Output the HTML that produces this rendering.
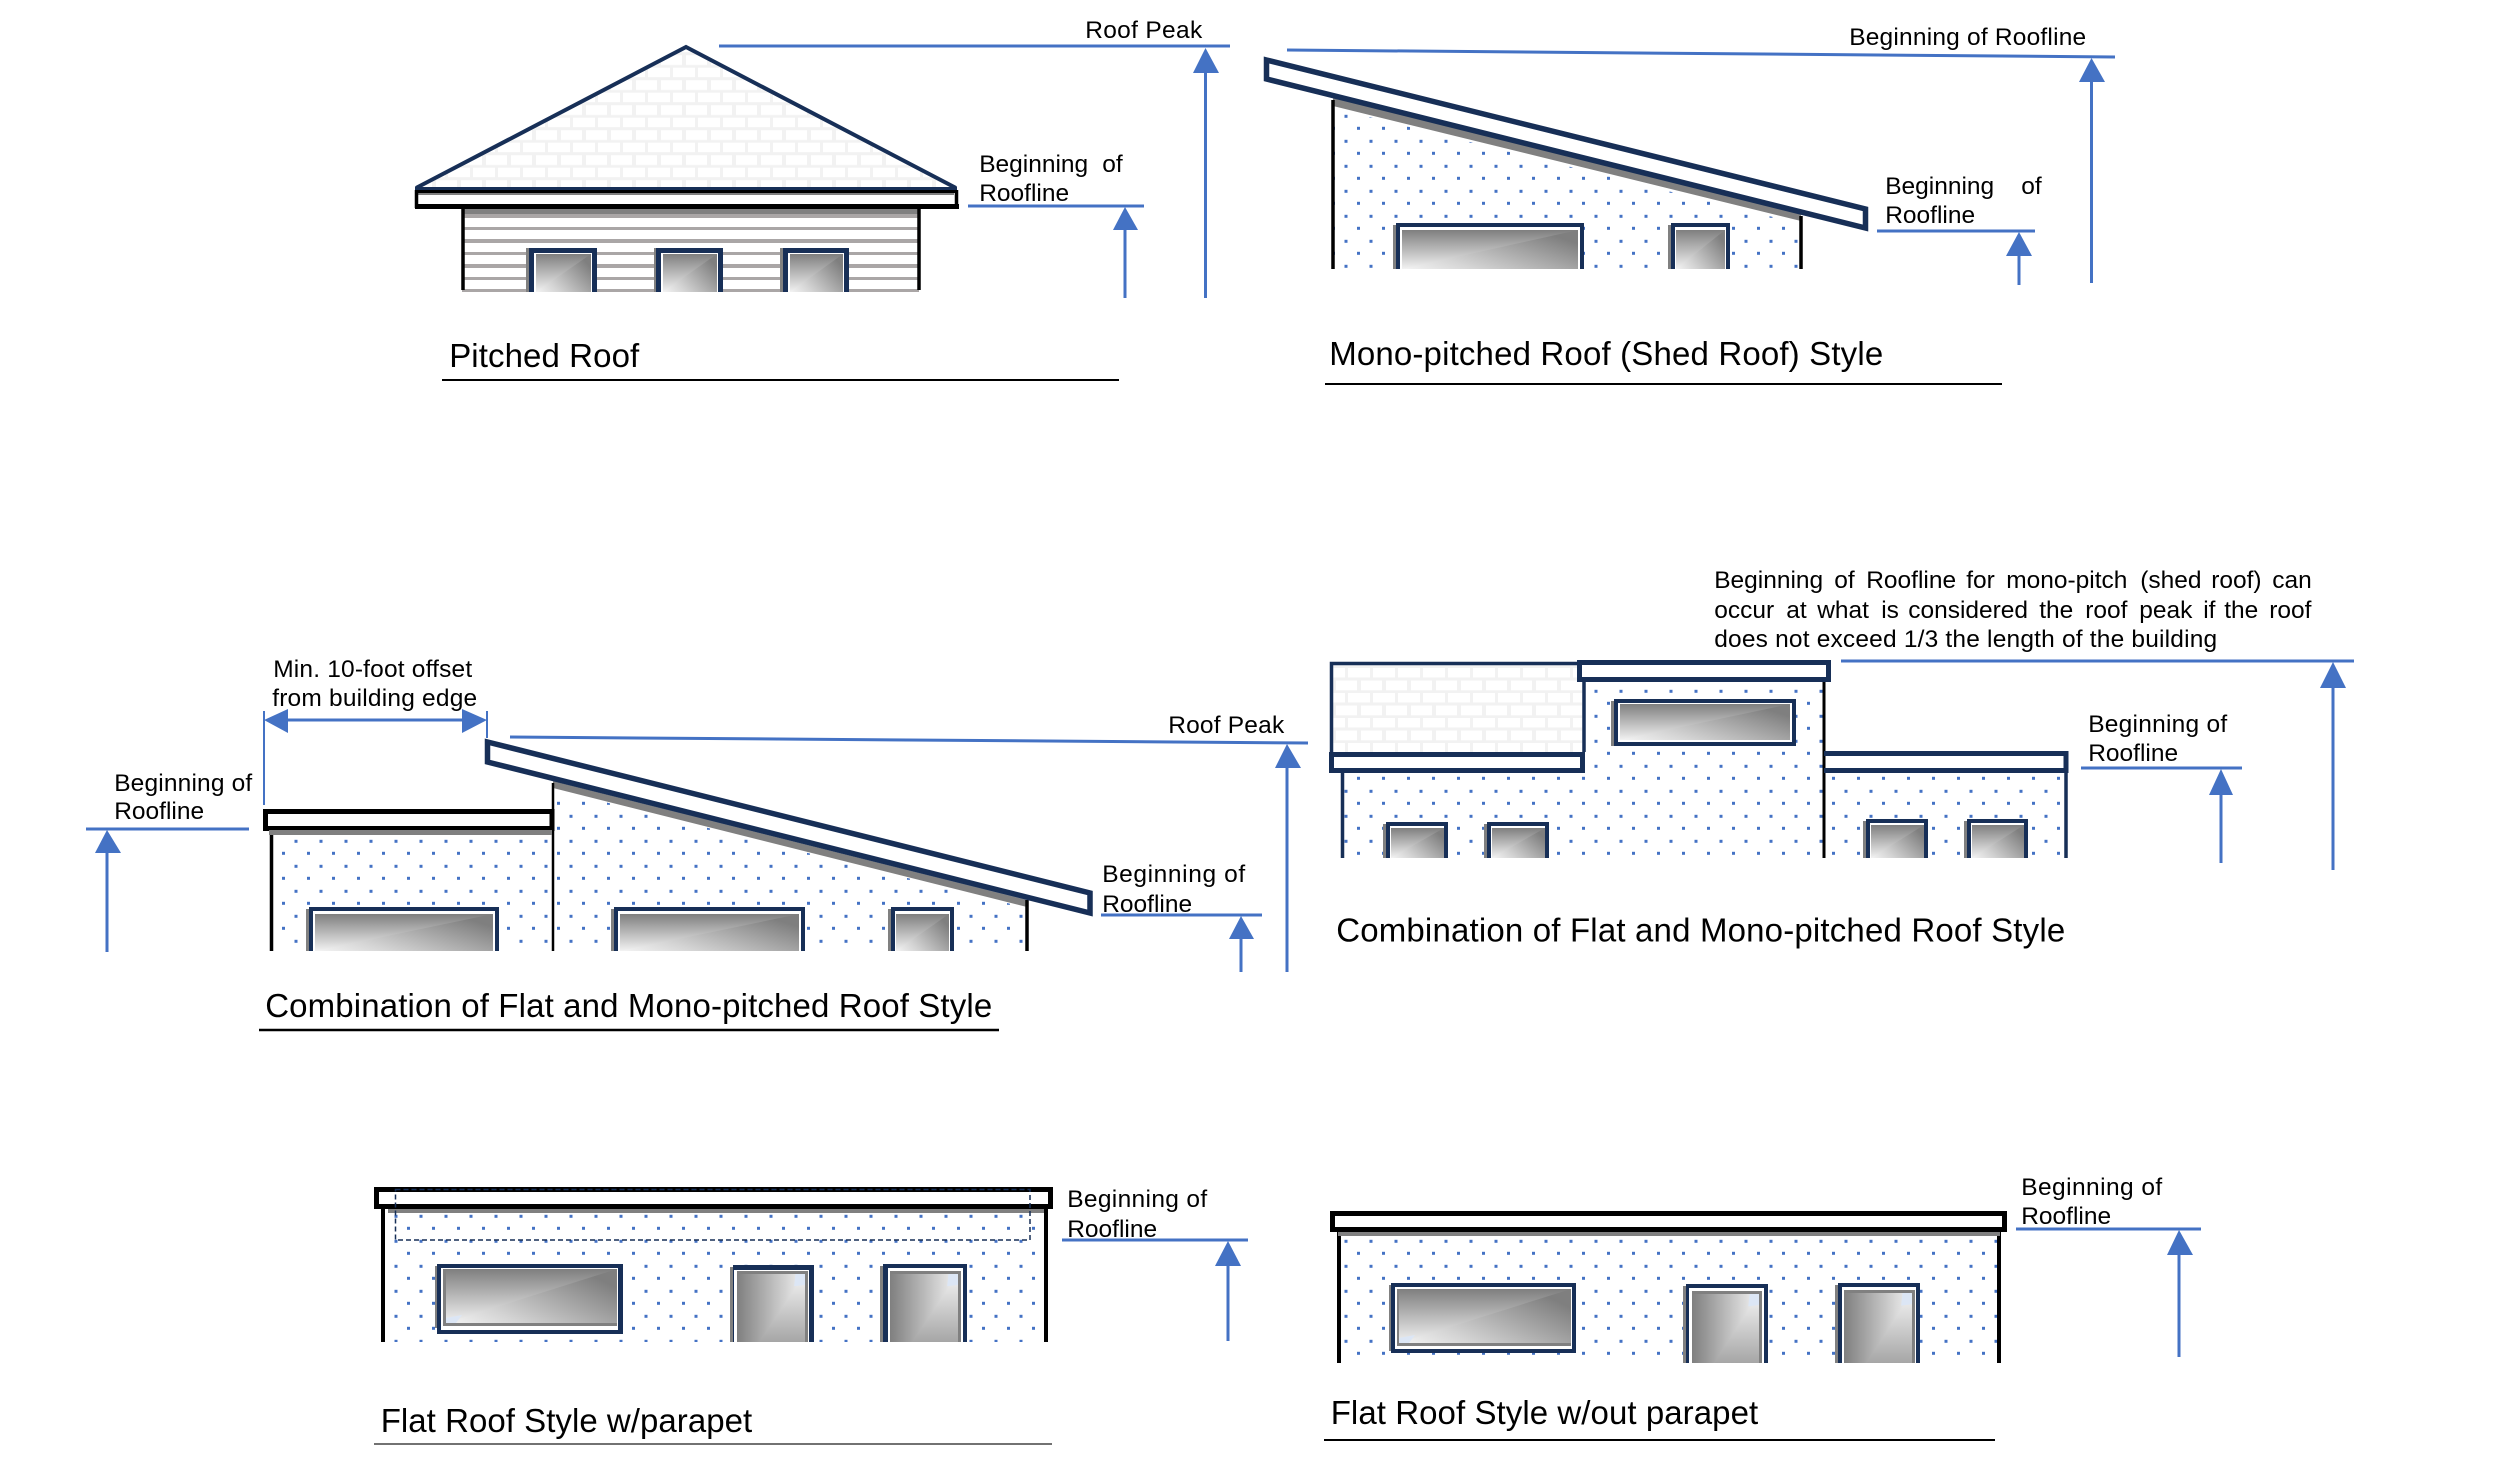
<!DOCTYPE html>
<html lang="en">
<head>
<meta charset="utf-8">
<title>Roof Styles</title>
<style>
html,body{margin:0;padding:0;background:#fff;width:2502px;height:1476px;overflow:hidden}
svg{display:block}
text{font-family:"Liberation Sans",sans-serif;fill:#000;font-size:24.5px;transform:translateX(-0.8px)}
.t{font-size:33px}
.b{stroke:#4472c4;stroke-width:3;fill:none}
.h{fill:#4472c4}
.k{stroke:#000;fill:none}
.n{stroke:#172f57;fill:none}
</style>
</head>
<body>
<svg width="2502" height="1476" viewBox="0 0 2502 1476" xmlns="http://www.w3.org/2000/svg">
<defs>
<pattern id="d" width="25" height="25" patternUnits="userSpaceOnUse">
<rect x="19.5" y="14.8" width="3" height="3" fill="#4472c4"/>
<rect x="7" y="1.8" width="3" height="3" fill="#4472c4"/>
</pattern>
<pattern id="s1" width="25" height="25" patternUnits="userSpaceOnUse" patternTransform="translate(23 167.7)">
<rect width="25" height="25" fill="#f2f2f2"/>
<rect x="0" y="0" width="22" height="9.5" fill="#fff"/>
<rect x="13" y="12.5" width="12" height="9.8" fill="#fff"/>
<rect x="0" y="12.5" width="9" height="9.8" fill="#fff"/>
</pattern>
<pattern id="s2" width="25" height="25" patternUnits="userSpaceOnUse" patternTransform="translate(23 668)">
<rect width="25" height="25" fill="#f2f2f2"/>
<rect x="0" y="0" width="22" height="9.5" fill="#fff"/>
<rect x="13" y="12.5" width="12" height="9.8" fill="#fff"/>
<rect x="0" y="12.5" width="9" height="9.8" fill="#fff"/>
</pattern>
<linearGradient id="ga" x1="0" y1="1" x2="1" y2="0.35">
<stop offset="0" stop-color="#f4f4f4"/><stop offset=".3" stop-color="#d4d4d4"/><stop offset="1" stop-color="#7f7f7f"/>
</linearGradient>
<linearGradient id="gb" x1="0" y1="0" x2="0" y2="1">
<stop offset="0" stop-color="#7f7f7f"/><stop offset="1" stop-color="#f2f2f2"/>
</linearGradient>
<linearGradient id="gc" x1="0" y1="0" x2="1" y2="0">
<stop offset="0" stop-color="#7f7f7f"/><stop offset="1" stop-color="#f4f4f4"/>
</linearGradient>
<linearGradient id="gd" x1="0.8" y1="0" x2="0.8" y2="1">
<stop offset="0" stop-color="#f4f4f4"/><stop offset="1" stop-color="#a6a6a6"/>
</linearGradient>
<symbol id="W" viewBox="0 0 100 100" preserveAspectRatio="none">
<rect width="100" height="100" fill="url(#ga)"/>
<polygon points="0,0 100,0 0,100" fill="url(#gb)"/>
</symbol>
<symbol id="D" viewBox="0 0 100 100" preserveAspectRatio="none">
<rect width="100" height="100" fill="url(#gd)"/>
<polygon points="0,0 100,0 32,100 0,100" fill="url(#gc)"/>
<polygon points="100,0 86,0 84,18 100,16" fill="#dce6f5"/>
</symbol>
</defs>

<!-- PITCHED -->
<polygon points="686,47 416,188 956,188" fill="url(#s1)"/>
<polyline class="n" stroke-width="4" points="416,188 686,47 956,188"/>
<rect x="462" y="209" width="457" height="83" fill="#fff"/>
<rect x="462" y="209" width="457" height="5" fill="#808080"/>
<rect x="462" y="214" width="457" height="4" fill="#aaa6a6"/>
<g fill="#aaa6a6">
<rect x="462" y="227" width="457" height="3"/><rect x="462" y="239" width="457" height="4"/>
<rect x="462" y="252" width="457" height="3"/><rect x="462" y="264" width="457" height="4"/>
<rect x="462" y="277" width="457" height="3"/><rect x="462" y="289" width="457" height="3"/>
</g>
<path class="k" stroke-width="3.500" d="M463,209V290M919,209V290"/>
<g>
<rect x="526" y="248" width="71" height="44" fill="#808080"/><rect x="529" y="248" width="68" height="44" fill="#172f57"/><rect x="534" y="253" width="58" height="39" fill="#fff"/><use href="#W" x="536" y="254" width="55" height="38"/>
<rect x="654" y="248" width="69" height="44" fill="#808080"/><rect x="656" y="248" width="67" height="44" fill="#172f57"/><rect x="661" y="253" width="57" height="39" fill="#fff"/><use href="#W" x="663" y="254" width="54" height="38"/>
<rect x="780" y="248" width="69" height="44" fill="#808080"/><rect x="783" y="248" width="66" height="44" fill="#172f57"/><rect x="788" y="253" width="56" height="39" fill="#fff"/><use href="#W" x="790" y="254" width="53" height="38"/>
</g>
<rect x="415" y="187" width="542" height="3" fill="#172f57"/>
<rect x="415" y="190" width="542" height="3" fill="#000"/>
<rect x="418" y="193" width="536" height="2" fill="#808080"/>
<rect x="415" y="204" width="544" height="5" fill="#000"/>
<path class="k" stroke-width="3.500" d="M416.500,190V208M956.500,190V208"/>
<path class="b" d="M719,46H1230M1205.500,60V298"/><polygon class="h" points="1205.500,48 1193,73 1219,73"/>
<path class="b" d="M968,206H1144M1125,220V298"/><polygon class="h" points="1125,207 1113,230 1138,230"/>
<text x="1086" y="38" textLength="117">Roof Peak</text>
<text x="980" y="172">Beginning</text><text x="1103" y="172">of</text>
<text x="980" y="201">Roofline</text>
<text class="t" x="450" y="367" textLength="190">Pitched Roof</text>
<path class="k" stroke-width="2" d="M442,380H1119"/>

<!-- SHED -->
<polygon points="1333,100 1801,216 1801,269 1333,269" fill="#fff"/>
<polygon points="1333,108 1801,224 1801,269 1333,269" fill="url(#d)"/>
<polygon points="1333,98 1801,213.500 1801,221 1333,106" fill="#808080"/>
<path class="k" stroke-width="3.500" d="M1333,100V269M1801,216V269"/>
<rect x="1393" y="225" width="3" height="44" fill="#808080"/><rect x="1396" y="223" width="188" height="46" fill="#172f57"/><rect x="1400" y="227" width="180" height="42" fill="#fff"/><use href="#W" x="1402" y="230" width="176" height="39"/>
<rect x="1668" y="225" width="3" height="44" fill="#808080"/><rect x="1671" y="223" width="59" height="46" fill="#172f57"/><rect x="1675" y="227" width="51" height="42" fill="#fff"/><use href="#W" x="1676" y="230" width="49" height="39"/>
<polygon class="n" stroke-width="5.500" points="1266.500,60 1865.500,209 1865.500,228 1266.500,79" style="fill:#fff"/>
<path class="b" d="M1287,50L2115,57M2091.500,70V283"/><polygon class="h" points="2091.500,58 2079,82 2105,82"/>
<path class="b" d="M1877,231H2035M2019,245V285"/><polygon class="h" points="2019,232 2006,256 2032,256"/>
<text x="1850" y="45" textLength="237">Beginning of Roofline</text>
<text x="1886" y="194">Beginning</text><text x="2022" y="194">of</text>
<text x="1886" y="223">Roofline</text>
<text class="t" x="1330" y="365" textLength="554">Mono-pitched Roof (Shed Roof) Style</text>
<path class="k" stroke-width="2" d="M1325,384H2002"/>

<!-- COMBO LEFT -->
<polygon points="271,835 553,835 553,951 271,951" fill="url(#d)"/>
<polygon points="553,789 1027,908 1027,951 553,951" fill="url(#d)"/>
<polygon points="553,781 1027,900 1027,907 553,788" fill="#808080"/>
<path class="k" stroke-width="3.500" d="M271.500,833V951M1027,900V951"/>
<path class="k" stroke-width="2.500" d="M553,783V951"/>
<rect x="306" y="909" width="3" height="42" fill="#808080"/><rect x="309" y="907" width="190" height="44" fill="#172f57"/><rect x="313" y="911" width="182" height="40" fill="#fff"/><use href="#W" x="315" y="914" width="178" height="37"/>
<rect x="611" y="909" width="3" height="42" fill="#808080"/><rect x="614" y="907" width="191" height="44" fill="#172f57"/><rect x="618" y="911" width="183" height="40" fill="#fff"/><use href="#W" x="620" y="914" width="179" height="37"/>
<rect x="888" y="909" width="3" height="42" fill="#808080"/><rect x="891" y="907" width="63" height="44" fill="#172f57"/><rect x="895" y="911" width="55" height="40" fill="#fff"/><use href="#W" x="896" y="914" width="53" height="37"/>
<polygon class="n" stroke-width="5.500" points="487.500,742 1090,893 1090,913 487.500,762" style="fill:#fff"/>
<rect x="265.500" y="811.500" width="286.500" height="17" fill="#fff" stroke="#000" stroke-width="5"/>
<rect x="269" y="830" width="283" height="5" fill="#808080"/>
<path class="b" style="stroke-width:2" d="M264,711V805M487,711V738"/>
<path class="b" d="M280,720H472"/><polygon class="h" points="264,720 288,709 288,733"/><polygon class="h" points="487,720 462,709 462,733"/>
<path class="b" d="M510,737L1308,743M1287,755V972"/><polygon class="h" points="1287,744 1275,768 1301,768"/>
<path class="b" d="M86,829H249M107,840V952"/><polygon class="h" points="107,830 95,853 121,853"/>
<path class="b" d="M1101,915H1262M1241,928V972"/><polygon class="h" points="1241,916 1229,939 1254,939"/>
<text x="274" y="677" textLength="199">Min. 10-foot offset</text>
<text x="273" y="706" textLength="205">from building edge</text>
<text x="1169" y="733" textLength="116">Roof Peak</text>
<text x="115" y="791" textLength="138">Beginning of</text>
<text x="115" y="819">Roofline</text>
<text x="1103" y="882" textLength="143">Beginning of</text>
<text x="1103" y="912">Roofline</text>
<text class="t" x="266" y="1017" textLength="727">Combination of Flat and Mono-pitched Roof Style</text>
<path class="k" stroke-width="2.500" d="M259,1030H999"/>

<!-- COMBO RIGHT -->
<rect x="1332" y="664" width="252" height="90" fill="url(#s2)"/>
<path class="n" stroke-width="3.500" d="M1331.500,752V663.500H1584"/>
<rect x="1342" y="773" width="482" height="85" fill="url(#d)"/>
<rect x="1584" y="682" width="240" height="92" fill="url(#d)"/>
<rect x="1824" y="773" width="242" height="85" fill="url(#d)"/>
<path class="n" stroke-width="3.500" d="M1342.500,773V858M2066,773V858M1584,664V752"/>
<path class="k" stroke-width="3" d="M1824,682V858"/>
<rect x="1611" y="701" width="3" height="45" fill="#808080"/>
<rect x="1614" y="699" width="182" height="47" fill="#172f57"/><rect x="1618" y="703" width="174" height="39" fill="#fff"/><use href="#W" x="1620" y="704" width="170" height="36"/>
<rect x="1383" y="824" width="3" height="34" fill="#808080"/><rect x="1386" y="822" width="62" height="36" fill="#172f57"/><rect x="1390" y="826" width="54" height="32" fill="#fff"/><use href="#W" x="1391" y="828" width="53" height="30"/>
<rect x="1484" y="824" width="3" height="34" fill="#808080"/><rect x="1487" y="822" width="62" height="36" fill="#172f57"/><rect x="1491" y="826" width="54" height="32" fill="#fff"/><use href="#W" x="1492" y="828" width="53" height="30"/>
<rect x="1863" y="821" width="3" height="37" fill="#808080"/><rect x="1866" y="819" width="62" height="39" fill="#172f57"/><rect x="1870" y="823" width="54" height="35" fill="#fff"/><use href="#W" x="1871" y="825" width="53" height="33"/>
<rect x="1964" y="821" width="3" height="37" fill="#808080"/><rect x="1967" y="819" width="61" height="39" fill="#172f57"/><rect x="1971" y="823" width="53" height="35" fill="#fff"/><use href="#W" x="1972" y="825" width="52" height="33"/>
<rect x="1331.500" y="754.500" width="251" height="16" fill="#fff" stroke="#172f57" stroke-width="5"/>
<rect x="1579.500" y="662.500" width="249" height="17" fill="#fff" stroke="#172f57" stroke-width="5"/>
<path class="n" stroke-width="5" d="M1824,753.500H2066V770.500H1824"/>
<path class="b" d="M1841,661H2354M2333,675V870"/><polygon class="h" points="2333,662 2320,688 2346,688"/>
<path class="b" d="M2081,768H2242M2221,782V863"/><polygon class="h" points="2221,769 2209,795 2233,795"/>
<text y="588"><tspan x="1715">Beginning</tspan><tspan x="1835">of</tspan><tspan x="1867">Roofline</tspan><tspan x="1967">for</tspan><tspan x="2007">mono-pitch</tspan><tspan x="2141">(shed</tspan><tspan x="2212">roof)</tspan><tspan x="2273">can</tspan></text>
<text y="618"><tspan x="1715">occur</tspan><tspan x="1787">at</tspan><tspan x="1818">what</tspan><tspan x="1882">is</tspan><tspan x="1909">considered</tspan><tspan x="2040">the</tspan><tspan x="2086">roof</tspan><tspan x="2140">peak</tspan><tspan x="2204">if</tspan><tspan x="2225">the</tspan><tspan x="2270">roof</tspan></text>
<text x="1715" y="647" textLength="503">does not exceed 1/3 the length of the building</text>
<text x="2089" y="732" textLength="139">Beginning of</text>
<text x="2089" y="761">Roofline</text>
<text class="t" x="1337" y="941.500" textLength="729">Combination of Flat and Mono-pitched Roof Style</text>

<!-- FLAT PARAPET -->
<rect x="383" y="1209" width="663" height="133" fill="url(#d)"/>
<rect x="388" y="1208" width="656" height="5" fill="#808080"/>
<path class="k" stroke-width="4" d="M383,1207V1342M1046,1207V1342"/>
<rect x="435" y="1266" width="2" height="62" fill="#808080"/>
<rect x="437" y="1264" width="186" height="70" fill="#172f57"/><rect x="441" y="1268" width="177" height="62" fill="#fff"/><rect x="443" y="1269" width="174" height="57" fill="#808080"/><use href="#W" x="446" y="1269" width="171" height="54"/><polygon points="446,1323 446,1318 462,1315 456,1323" fill="#dce6f5"/>
<rect x="730" y="1267" width="3" height="75" fill="#808080"/><rect x="733" y="1265" width="81" height="77" fill="#172f57"/><rect x="734" y="1270" width="75" height="72" fill="#fff"/><rect x="737" y="1271" width="71" height="71" fill="#808080"/><use href="#D" x="737" y="1274" width="68" height="68"/>
<rect x="880" y="1266" width="3" height="76" fill="#808080"/><rect x="883" y="1264" width="84" height="78" fill="#172f57"/><rect x="888" y="1268" width="75" height="74" fill="#fff"/><rect x="890" y="1271" width="71" height="71" fill="#808080"/><use href="#D" x="890" y="1274" width="68" height="68"/>
<rect x="376.500" y="1189.500" width="674" height="17" fill="#fff" stroke="#000" stroke-width="5"/>
<rect x="395.500" y="1189.500" width="634.500" height="50.500" fill="none" stroke="#172f57" stroke-width="1.500" stroke-dasharray="5 3"/>
<path class="b" d="M1062,1240H1248M1228,1254V1341"/><polygon class="h" points="1228,1241 1215,1266 1241,1266"/>
<text x="1068" y="1207" textLength="140">Beginning of</text>
<text x="1068" y="1237">Roofline</text>
<text class="t" x="381.500" y="1432" textLength="371.500">Flat Roof Style w/parapet</text>
<path stroke="#444" stroke-width="1.500" d="M374,1444H1052"/>

<!-- FLAT NO PARAPET -->
<rect x="1339" y="1233" width="660" height="130" fill="url(#d)"/>
<rect x="1338" y="1231" width="662" height="5" fill="#808080"/>
<path class="k" stroke-width="4" d="M1339,1231V1363M1999,1231V1363"/>
<rect x="1389" y="1285" width="2" height="66" fill="#808080"/>
<rect x="1391" y="1283" width="185" height="70" fill="#172f57"/><rect x="1395" y="1287" width="177" height="62" fill="#fff"/><rect x="1397" y="1289" width="174" height="57" fill="#808080"/><use href="#W" x="1399" y="1289" width="172" height="54"/><polygon points="1399,1343 1399,1338 1415,1335 1409,1343" fill="#dce6f5"/>
<rect x="1683" y="1286" width="3" height="77" fill="#808080"/><rect x="1686" y="1284" width="82" height="79" fill="#172f57"/><rect x="1689" y="1288" width="75" height="75" fill="#fff"/><rect x="1692" y="1291" width="70" height="72" fill="#808080"/><use href="#D" x="1692" y="1294" width="67" height="69"/>
<rect x="1835" y="1285" width="3" height="78" fill="#808080"/><rect x="1838" y="1283" width="82" height="80" fill="#172f57"/><rect x="1842" y="1287" width="74" height="76" fill="#fff"/><rect x="1844" y="1290" width="71" height="73" fill="#808080"/><use href="#D" x="1844" y="1293" width="68" height="70"/>
<rect x="1332.500" y="1213.500" width="672" height="16" fill="#fff" stroke="#000" stroke-width="5"/>
<rect x="1338" y="1232" width="662" height="4" fill="#808080"/>
<path class="b" d="M2016,1229H2201M2179,1243V1357"/><polygon class="h" points="2179,1230 2167,1255 2193,1255"/>
<text x="2022" y="1195" textLength="141">Beginning of</text>
<text x="2022" y="1224">Roofline</text>
<text class="t" x="1331.500" y="1424" textLength="427.500">Flat Roof Style w/out parapet</text>
<path class="k" stroke-width="2" d="M1324,1440H1995"/>
</svg>
</body>
</html>
